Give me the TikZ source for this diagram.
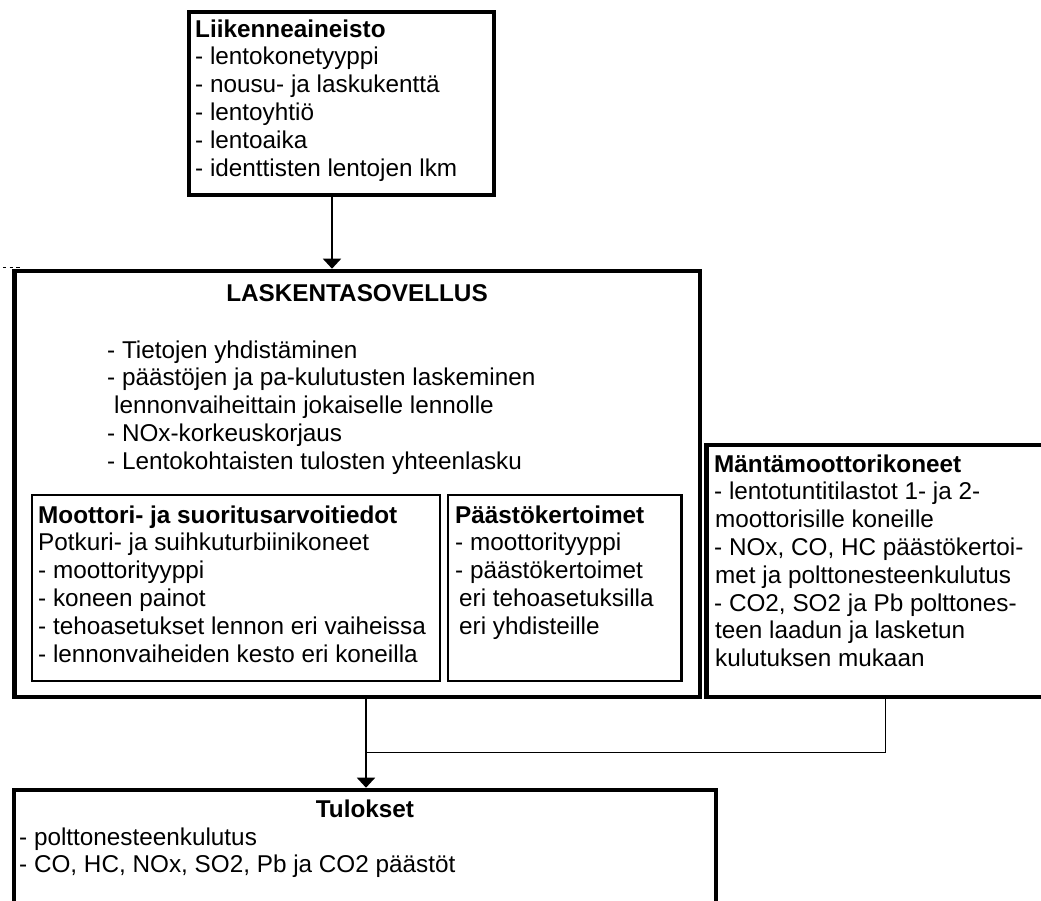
\documentclass[tikz,border=0pt]{standalone}
\usepackage{fontspec}
\setmainfont{Liberation Sans}
\usetikzlibrary{arrows.meta}

% one text line inside a stacked block
\newcommand\tline[1]{\hbox{#1}}

\begin{document}
\begin{tikzpicture}[x=1pt,y=-1pt,
  thickbox/.style={draw, line width=4.7pt, inner sep=0pt, outer sep=0pt, anchor=north west},
  sidebox/.style={draw, line width=4.2pt, inner sep=0pt, outer sep=0pt, anchor=north west},
  thinbox/.style={draw, line width=2.5pt, inner sep=0pt, outer sep=0pt, anchor=north west},
  txt/.style={anchor=base west, inner sep=0pt, font=\fontsize{24.3}{27.8}\selectfont},
  ttl/.style={anchor=base, inner sep=0pt, font=\fontsize{24.3}{27.8}\selectfont\bfseries},
  conn/.style={line width=1.9pt},
  arr/.style={conn, -{Triangle[width=18pt,length=10pt]}, shorten >=2.3pt},
  dotline/.style={line width=1.7pt, dash pattern=on 3.3pt off 3.3pt},
]
\useasboundingbox (0,0) rectangle (1041,900);
\clip (0,0) rectangle (1041,900);

% boxes
\node[thickbox, minimum width=305pt, minimum height=183pt] (src) at (189,12) {};
\node[thickbox, minimum width=685.5pt, minimum height=426pt] (calc) at (14.5,271) {};
\node[thinbox, minimum width=408pt, minimum height=186pt] (engine) at (32,495) {};
\node[thinbox, minimum width=233.5pt, minimum height=186pt] (factors) at (448,495) {};
\node[sidebox, minimum width=353.5pt, minimum height=252pt] (piston) at (706.5,445) {};
\node[thickbox, minimum width=702pt, minimum height=140pt] (results) at (14,790) {};

% short dotted mark left of the main box
\coordinate (dotA) at (3,267.5);
\coordinate (dotB) at (19.5,267.5);
\draw[dotline] (dotA) -- (dotB);

% texts
\node[txt] (srctext) at (195,37) {\vtop{%
  \tline{\bfseries Liikenneaineisto}
  \tline{- lentokonetyyppi}
  \tline{- nousu- ja laskukenttä}
  \tline{- lentoyhtiö}
  \tline{- lentoaika}
  \tline{- identtisten lentojen lkm}}};

\node[ttl] (calctitle) at (357,301) {LASKENTASOVELLUS};
\node[txt] (calctext) at (107,358) {\vtop{%
  \tline{- Tietojen yhdistäminen}
  \tline{- päästöjen ja pa-kulutusten laskeminen}
  \tline{\hskip 7pt lennonvaiheittain jokaiselle lennolle}
  \tline{- NOx-korkeuskorjaus}
  \tline{- Lentokohtaisten tulosten yhteenlasku}}};

\node[txt] (enginetext) at (38,523) {\vtop{%
  \tline{\bfseries Moottori- ja suoritusarvoitiedot}
  \tline{Potkuri- ja suihkuturbiinikoneet}
  \tline{- moottorityyppi}
  \tline{- koneen painot}
  \tline{- tehoasetukset lennon eri vaiheissa}
  \tline{- lennonvaiheiden kesto eri koneilla}}};

\node[txt] (factorstext) at (455,523) {\vtop{%
  \tline{\bfseries Päästökertoimet}
  \tline{- moottorityyppi}
  \tline{- päästökertoimet}
  \tline{\hskip 4pt eri tehoasetuksilla}
  \tline{\hskip 4pt eri yhdisteille}}};

\node[txt] (pistontext) at (714,472) {\vtop{%
  \tline{\bfseries Mäntämoottorikoneet}
  \tline{- lentotuntitilastot 1- ja 2-}
  \tline{\hskip 1pt moottorisille koneille}
  \tline{- NOx, CO, HC päästökertoi-}
  \tline{\hskip 1pt met ja polttonesteenkulutus}
  \tline{- CO2, SO2 ja Pb polttones-}
  \tline{\hskip 1pt teen laadun ja lasketun}
  \tline{\hskip 1pt kulutuksen mukaan}}};

\node[ttl] (resultstitle) at (365,817) {Tulokset};
\node[txt] (resultstext) at (19,845) {\vtop{%
  \tline{- polttonesteenkulutus}
  \tline{- CO, HC, NOx, SO2, Pb ja CO2 päästöt}}};

% connectors
\coordinate (topx) at (332,0);
\coordinate (lowx) at (366,0);
\coordinate (joint) at (885.5,752.5);
\draw[arr] (src.south -| topx) -- (calc.north -| topx);
\draw[arr] (calc.south -| lowx) -- (results.north -| lowx);
\draw[conn] (piston.south -| joint) -- (joint) -- (joint -| lowx);
\end{tikzpicture}
\end{document}
